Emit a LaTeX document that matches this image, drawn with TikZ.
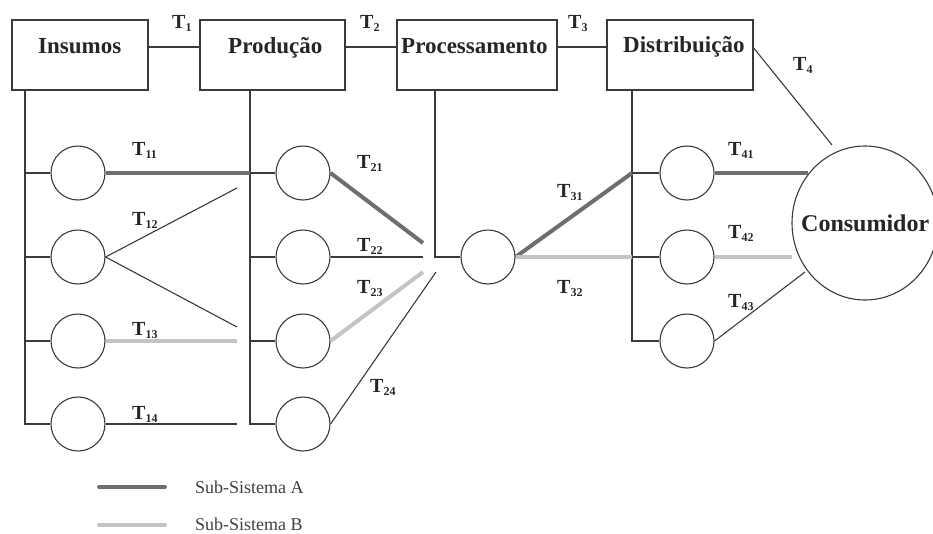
\documentclass[tikz,border=0pt]{standalone}
\usepackage{fontspec}
\setmainfont{Liberation Serif}
\usetikzlibrary{shapes.geometric}
\definecolor{lncol}{HTML}{3A3A3A}
\definecolor{subA}{HTML}{6E6E6E}
\definecolor{subB}{HTML}{C4C4C4}
\newcommand\Tlab[1]{T\raisebox{-3pt}{\fontsize{12}{12}\selectfont #1}}
\tikzset{
  box/.style={draw=lncol, line width=1.4pt, rectangle, minimum height=70pt, inner sep=0pt},
  circ/.style={draw=lncol, line width=1.1pt, circle, minimum size=54pt, inner sep=0pt},
  boxtext/.style={anchor=base west, inner sep=0pt, font=\fontsize{23}{23}\selectfont\bfseries, text=black!85},
  tlab/.style={anchor=base west, inner sep=0pt, font=\fontsize{20}{20}\selectfont\bfseries, text=black!85},
  legtext/.style={anchor=base west, inner sep=0pt, font=\fontsize{18}{18}\selectfont, text=black!75},
  thin/.style={draw=lncol, line width=1.1pt},
  lineA/.style={draw=subA, line width=4pt},
  lineB/.style={draw=subB, line width=4pt}
}
\begin{document}
\begin{tikzpicture}[x=1pt,y=-1pt]
\useasboundingbox (0,0) rectangle (933,533);
% boxes
\node[box, minimum width=136pt] (ins) at (80,55) {};
\node[box, minimum width=145pt] (prod) at (272.5,55) {};
\node[box, minimum width=160pt] (proc) at (477,55) {};
\node[box, minimum width=146pt] (dist) at (680,55) {};
\node[boxtext] (insT) at (38,53) {Insumos};
\node[boxtext] (prodT) at (228,53) {Produção};
\node[boxtext] (procT) at (401,53) {Processamento};
\node[boxtext] (distT) at (623,52) {Distribuição};
% consumer
\node[draw=lncol, line width=1.1pt, ellipse, minimum width=146pt, minimum height=154pt, inner sep=0pt] (cons) at (865,223) {};
\node[anchor=base west, inner sep=0pt, font=\fontsize{24}{24}\selectfont\bfseries, text=black!85] (consT) at (801,231) {Consumidor};
% circles
\foreach \k/\y in {1/173,2/257,3/341,4/424}{
  \node[circ] (i\k) at (78,\y) {};
  \node[circ] (p\k) at (303,\y) {};
}
\node[circ] (pc) at (488,257) {};
\foreach \k/\y in {1/173,2/257,3/341}{
  \node[circ] (d\k) at (687,\y) {};
}
% free ends
\coordinate (b1) at (25,90);
\coordinate (b2) at (250,90);
\coordinate (b3) at (435,90);
\coordinate (b4) at (632,90);
\coordinate (c11) at (250,173);
\coordinate (c12a) at (237,188);
\coordinate (c12b) at (237,327);
\coordinate (c13) at (237,341);
\coordinate (c14) at (237,424);
\coordinate (c21) at (423,243);
\coordinate (c22) at (423,257);
\coordinate (c23) at (423,272);
\coordinate (c24) at (436,272);
\coordinate (c31) at (632,173);
\coordinate (c32) at (632,257);
\coordinate (c41) at (808,173);
\coordinate (c42) at (792,257);
\coordinate (c43) at (805,272);
\coordinate (c4) at (832,145);
% box connectors
\draw[thin] ([yshift=8pt]ins.east) -- ([yshift=8pt]prod.west);
\draw[thin] ([yshift=8pt]prod.east) -- ([yshift=8pt]proc.west);
\draw[thin] ([yshift=8pt]proc.east) -- ([yshift=8pt]dist.west);
\draw[thin] ([yshift=7pt]dist.east) -- (c4);
% buses
\draw[thin] (b1) |- (i4.west);
\draw[thin] (b2) |- (p4.west);
\draw[thin] (b3) |- (pc.west);
\draw[thin] (b4) |- (d3.west);
\foreach \k in {1,2,3}{
  \draw[thin] (i\k.west) -- (i\k.west -| b1);
  \draw[thin] (p\k.west) -- (p\k.west -| b2);
}
\foreach \k in {1,2}{
  \draw[thin] (d\k.west) -- (d\k.west -| b4);
}
% thin transactions
\draw[thin] (c12a) -- (i2.east) -- (c12b);
\draw[thin] (i4.east) -- (c14);
\draw[thin] (p2.east) -- (c22);
\draw[thin] (p4.east) -- (c24);
\draw[thin] (d3.east) -- (c43);
% sub-system A
\draw[lineA] (i1.east) -- (c11);
\draw[lineA] (p1.east) -- (c21);
\draw[lineA] (pc.east) -- (c31);
\draw[lineA] (d1.east) -- (c41);
% sub-system B
\draw[lineB] (i3.east) -- (c13);
\draw[lineB] (p3.east) -- (c23);
\draw[lineB] (pc.east) -- (c32);
\draw[lineB] (d2.east) -- (c42);
% labels
\node[tlab] (t1) at (172,28) {\Tlab{1}};
\node[tlab] (t2) at (360,28) {\Tlab{2}};
\node[tlab] (t3) at (568,28) {\Tlab{3}};
\node[tlab] (t4) at (793,70) {\Tlab{4}};
\node[tlab] (t11) at (132,155) {\Tlab{11}};
\node[tlab] (t12) at (132,225) {\Tlab{12}};
\node[tlab] (t13) at (132,335) {\Tlab{13}};
\node[tlab] (t14) at (132,419) {\Tlab{14}};
\node[tlab] (t21) at (357,168) {\Tlab{21}};
\node[tlab] (t22) at (357,251) {\Tlab{22}};
\node[tlab] (t23) at (357,293) {\Tlab{23}};
\node[tlab] (t24) at (370,392) {\Tlab{24}};
\node[tlab] (t31) at (557,197) {\Tlab{31}};
\node[tlab] (t32) at (557,293) {\Tlab{32}};
\node[tlab] (t41) at (728,155) {\Tlab{41}};
\node[tlab] (t42) at (728,238) {\Tlab{42}};
\node[tlab] (t43) at (728,307) {\Tlab{43}};
% legend
\coordinate (la1) at (99,487);
\coordinate (la2) at (165,487);
\coordinate (lb1) at (99,525);
\coordinate (lb2) at (165,525);
\draw[lineA, line cap=round] (la1) -- (la2);
\draw[lineB, line cap=round] (lb1) -- (lb2);
\node[legtext] (legA) at (195,493) {Sub-Sistema A};
\node[legtext] (legB) at (195,530) {Sub-Sistema B};
\end{tikzpicture}
\end{document}
